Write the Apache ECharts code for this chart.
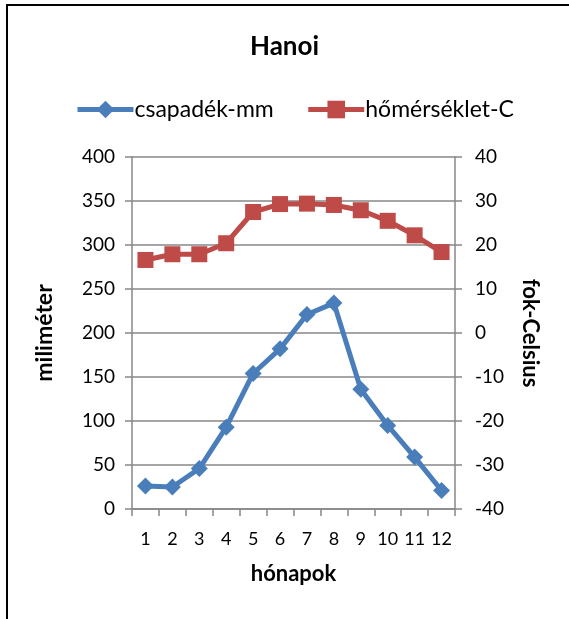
<!DOCTYPE html>
<html>
<head>
<meta charset="utf-8">
<script src="https://cdn.jsdelivr.net/npm/echarts@6/dist/echarts.min.js"></script>
<style>
html,body{margin:0;padding:0;background:#fff;}
#c{width:569px;height:619px;}
</style>
</head>
<body>
<div id="c"></div>
<script>
var months = ['1','2','3','4','5','6','7','8','9','10','11','12'];
var precipitation = [26, 25, 46, 93, 154, 182, 221, 234, 136, 95, 59, 21];
var temperature = [16.6, 17.9, 17.9, 20.4, 27.5, 29.3, 29.4, 29.1, 27.9, 25.5, 22.2, 18.4];
var leftTicks = [0, 400, 50];
var rightTicks = [-40, 40, 10];

var FONT = 'Lato';
var chart = echarts.init(document.getElementById('c'), null, {renderer: 'canvas'});
var gridColor = '#878787';
chart.setOption({
  animation: false,
  backgroundColor: '#fff',
  textStyle: {fontFamily: FONT},
  graphic: [{
    type: 'rect',
    shape: {x: 7, y: 5, width: 620, height: 660},
    style: {fill: 'none', stroke: '#000', lineWidth: 2},
    silent: true
  }],
  title: {
    text: 'Hanoi',
    left: 'center',
    top: 29,
    textStyle: {fontFamily: FONT, fontSize: 26, fontWeight: 'bold', color: '#000'}
  },
  legend: {
    top: 93,
    left: 70,
    itemWidth: 56,
    itemHeight: 22,
    itemGap: 32,
    lineStyle: {width: 5},
    textStyle: {fontFamily: FONT, fontSize: 23, color: '#000', padding: [0,0,0,-4]},
    data: ['csapadék-mm', 'hőmérséklet-C']
  },
  grid: {left: 132, right: 114, top: 157, bottom: 110, containLabel: false},
  xAxis: {
    type: 'category',
    data: months,
    boundaryGap: true,
    name: 'hónapok',
    nameLocation: 'middle',
    nameGap: 54,
    nameTextStyle: {fontFamily: FONT, fontSize: 22, fontWeight: 'bold', color: '#000'},
    axisLine: {lineStyle: {color: gridColor, width: 1.5}},
    axisTick: {show: true, alignWithLabel: false, length: 7, lineStyle: {color: gridColor, width: 1.5}},
    axisLabel: {fontFamily: FONT, fontSize: 18, color: '#000', margin: 21, interval: 0}
  },
  yAxis: [{
    type: 'value',
    position: 'left',
    min: leftTicks[0], max: leftTicks[1], interval: leftTicks[2],
    name: 'miliméter',
    nameLocation: 'middle',
    nameGap: 76,
    nameRotate: 90,
    nameTextStyle: {fontFamily: FONT, fontSize: 23, fontWeight: 'bold', color: '#000'},
    axisLine: {show: true, lineStyle: {color: gridColor, width: 1.5}},
    axisTick: {show: true, length: 7, lineStyle: {color: gridColor, width: 1.5}},
    axisLabel: {fontFamily: FONT, fontSize: 19, color: '#000', margin: 17},
    splitLine: {show: true, lineStyle: {color: gridColor, width: 1.5}}
  }, {
    type: 'value',
    position: 'right',
    min: rightTicks[0], max: rightTicks[1], interval: rightTicks[2],
    name: 'fok-Celsius',
    nameLocation: 'middle',
    nameGap: 64,
    nameRotate: -90,
    nameTextStyle: {fontFamily: FONT, fontSize: 22, fontWeight: 'bold', color: '#000'},
    axisLine: {show: true, lineStyle: {color: gridColor, width: 1.5}},
    axisTick: {show: true, length: 7, lineStyle: {color: gridColor, width: 1.5}},
    axisLabel: {fontFamily: FONT, fontSize: 19, color: '#000', margin: 20},
    splitLine: {show: false}
  }],
  series: [{
    name: 'csapadék-mm',
    type: 'line',
    yAxisIndex: 0,
    data: precipitation,
    symbol: 'diamond',
    symbolSize: [17, 17],
    color: '#4A7EBB',
    lineStyle: {width: 5, color: '#4A7EBB'},
    itemStyle: {color: '#4A7EBB'},
    z: 3
  }, {
    name: 'hőmérséklet-C',
    type: 'line',
    yAxisIndex: 1,
    data: temperature,
    symbol: 'rect',
    symbolSize: [16, 16],
    color: '#BE4B48',
    lineStyle: {width: 5, color: '#BE4B48'},
    itemStyle: {color: '#BE4B48'},
    z: 3
  }]
});
</script>
</body>
</html>
